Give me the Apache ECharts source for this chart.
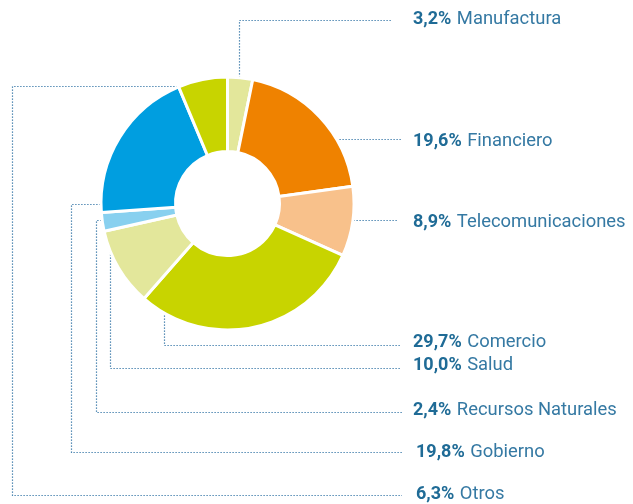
<!DOCTYPE html>
<html>
<head>
<meta charset="utf-8">
<script src="https://cdn.jsdelivr.net/npm/echarts@6/dist/echarts.min.js"></script>
<style>
  html, body { margin: 0; padding: 0; background: #fff; }
  #chart { width: 633px; height: 504px; }
</style>
</head>
<body>
<div id="chart"></div>
<script>
// Sector shares (%), in clockwise order starting at 12 o'clock
const sectors = ['Manufactura', 'Financiero', 'Telecomunicaciones', 'Comercio', 'Salud', 'Recursos Naturales', 'Gobierno', 'Otros'];
const shares = [3.2, 19.6, 8.9, 29.7, 10.0, 2.4, 19.8, 6.3];
const sectorColors = ['#e3e79b', '#ef8200', '#f8c18b', '#c8d400', '#e3e79b', '#88d0ef', '#009ee0', '#c8d400'];

// Donut geometry (px)
const CX = 227.5, CY = 203.5, R_IN = 52, R_OUT = 126.5, R_ANCHOR = 121;

// Label block placement and leader-line routing
const labelX = [413, 413, 413, 413, 413, 413, 416, 416];
const labelY = [19, 141.5, 222, 342, 365, 410, 452, 494];
const anchorFrac = [0.49, 0.66, 0.5, 0.91, 0.92, 0.52, 0.05, 0.38];
const route = ['up', 'right', 'right', 'down', 'down', 'left', 'left', 'left'];
const turnY = [20.5, null, null, 345.5, 368.5, 412.5, 452.5, 495.5];
const turnX = [null, null, null, null, null, 96.5, 71.5, 12.5];
const lineEndX = [392, 401, 398, 400, 400, 402, 402, 402];

const total = shares.reduce((a, b) => a + b, 0);
let acc = 0;
const anchors = shares.map((v, i) => {
  const a0 = acc / total * 360;
  acc += v;
  const a1 = acc / total * 360;
  const ang = (a0 + (a1 - a0) * anchorFrac[i]) * Math.PI / 180;
  return [CX + R_ANCHOR * Math.sin(ang), CY - R_ANCHOR * Math.cos(ang)];
});
const snap = v => Math.round(v - 0.5) + 0.5;

function guidePoints(i) {
  const ax = snap(anchors[i][0]), ay = snap(anchors[i][1]);
  switch (route[i]) {
    case 'up':
    case 'down':
      return [[ax, ay], [ax, turnY[i]], [lineEndX[i], turnY[i]]];
    case 'right':
      return [[ax, ay], [lineEndX[i], ay]];
    default:
      return [[ax, ay], [turnX[i], ay], [turnX[i], turnY[i]], [lineEndX[i], turnY[i]]];
  }
}

const fmtPct = v => v.toFixed(1).replace('.', ',') + '%';

const chart = echarts.init(document.getElementById('chart'), null, { renderer: 'canvas' });
chart.setOption({
  animation: false,
  backgroundColor: '#ffffff',
  series: [{
    type: 'pie',
    center: [CX, CY],
    radius: [R_IN, R_OUT],
    startAngle: 90,
    clockwise: true,
    avoidLabelOverlap: false,
    silent: true,
    itemStyle: { borderColor: '#ffffff', borderWidth: 3 },
    label: {
      show: true,
      position: 'outside',
      fontFamily: 'Roboto',
      fontSize: 18,
      color: '#3579a3',
      formatter: p => '{v|' + fmtPct(shares[p.dataIndex]) + '} {n|' + p.name + '}',
      rich: {
        v: { fontFamily: 'Roboto', fontWeight: 'bold', fontSize: 18, color: '#1f6b96' },
        n: { fontFamily: 'Roboto', fontSize: 18.4, color: '#3579a3', padding: [0, 0, 0, 1] }
      }
    },
    labelLine: {
      show: true,
      smooth: false,
      lineStyle: { color: '#2c70a3', width: 1.2, type: [1.2, 1.8] }
    },
    labelLayout: p => ({
      x: labelX[p.dataIndex],
      y: labelY[p.dataIndex],
      align: 'left',
      verticalAlign: 'middle',
      labelLinePoints: guidePoints(p.dataIndex)
    }),
    data: sectors.map((name, i) => ({
      name: name,
      value: shares[i],
      itemStyle: { color: sectorColors[i] }
    }))
  }]
});
</script>
</body>
</html>
